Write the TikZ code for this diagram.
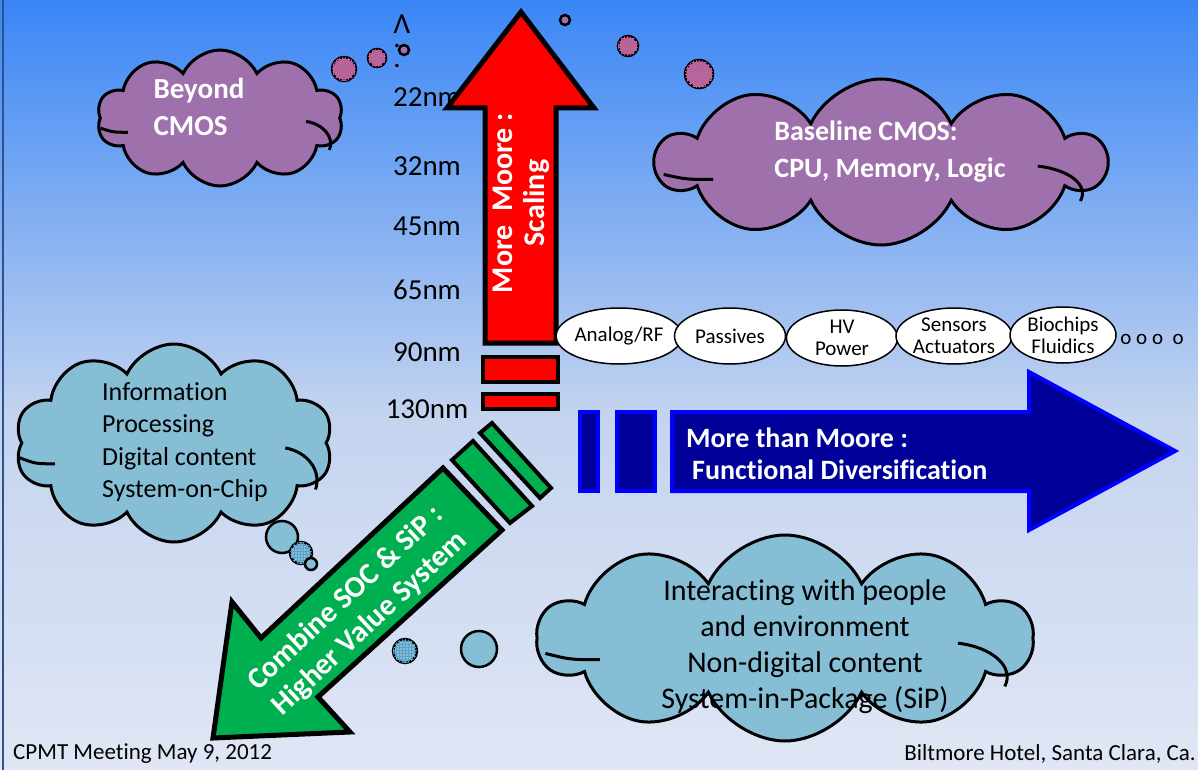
\documentclass[tikz,border=0pt]{standalone}
\usepackage{fontspec}
\setmainfont{Carlito}[Ligatures=NoCommon]
\usetikzlibrary{shapes.geometric,shapes.symbols,patterns}
\definecolor{bgtop}{RGB}{58,134,246}
\definecolor{bgmid}{RGB}{196,212,239}
\definecolor{bgbot}{RGB}{224,230,245}
\definecolor{redfill}{RGB}{255,0,0}
\definecolor{greenfill}{RGB}{0,176,80}
\definecolor{navyfill}{RGB}{0,0,153}
\definecolor{blueline}{RGB}{0,0,255}
\definecolor{plum}{RGB}{158,112,172}
\definecolor{plumgrid}{RGB}{205,90,140}
\definecolor{skycloud}{RGB}{134,190,214}
\definecolor{skygrid}{RGB}{90,160,200}
\definecolor{frameline}{RGB}{47,82,143}
\pgfdeclareverticalshading{slidebg}{100bp}{color(0bp)=(bgbot); color(25bp)=(bgbot); color(48bp)=(bgmid); color(75bp)=(bgtop); color(100bp)=(bgtop)}
% creases inside a cloud, centre #1, half width #2, half height #3
\newcommand\cloudcreases[3]{%
  \begin{scope}[shift={(#1)}, xscale=#2, yscale=#3, line width=3pt]
    \draw (-0.97,0.15) .. controls (-0.87,0.21) .. (-0.75,0.21);
    \draw (0.70,0.05) .. controls (0.84,0.09) and (0.93,0.28) .. (0.89,0.47);
  \end{scope}}
\tikzset{
  puff/.style={cloud, cloud puffs=10, cloud puff arc=130, cloud ignores aspect,
    draw=black, line width=3pt, inner sep=0pt},
  plumcloud/.style={puff, fill=plum},
  skycloud/.style={puff, fill=skycloud},
  plumbubble/.style={draw=black, line width=2.5pt, fill=plum},
  plumdot/.style={plumbubble, postaction={pattern=grid, pattern color=plumgrid}},
  skybubble/.style={draw=black, line width=2.5pt, fill=skycloud},
  skydot/.style={skybubble, postaction={pattern=grid, pattern color=skygrid}},
  nmlabel/.style={inner sep=0pt, font=\fontsize{29}{35}\selectfont},
  whitebold/.style={inner sep=0pt, text=white, font=\bfseries\fontsize{29}{37}\selectfont},
  arrowtext/.style={inner sep=0pt, text=white, align=center, font=\bfseries\fontsize{30}{33}\selectfont},
  cloudtext/.style={inner sep=0pt, font=\fontsize{26}{32.5}\selectfont},
  techblob/.style={ellipse, draw=black, line width=1.5pt, fill=white, inner sep=0pt,
    minimum width=111, minimum height=56, align=center,
    font=\fontsize{21}{22}\selectfont},
  redarrow/.style={draw=black, line width=5pt, fill=redfill, line join=miter},
  redbar/.style={draw=black, line width=4pt, fill=redfill},
  greenarrow/.style={draw=black, line width=5pt, fill=greenfill, line join=miter},
  greenbar/.style={draw=black, line width=4pt, fill=greenfill},
  bluearrow/.style={draw=blueline, line width=4pt, fill=navyfill, line join=miter},
  foot/.style={inner sep=0pt, font=\fontsize{23}{28}\selectfont}
}
\begin{document}
\begin{tikzpicture}[x=1pt,y=-1pt]
\shade[shading=slidebg] (0,0) rectangle (1198,770);
\useasboundingbox (0,0) rectangle (1198,770);
\draw[frameline, line width=2pt] (3,0) -- (3,770);

% clouds
\node[plumcloud, minimum width=246, minimum height=136] (beyond) at (220,118) {};
\cloudcreases{220,118}{123}{68}
\node[whitebold, align=left] (beyondtxt) at (199,107) {Beyond\\CMOS};
\node[plumcloud, minimum width=448, minimum height=166] (baseline) at (881,162) {};
\cloudcreases{881,162}{224}{83}
\node[whitebold, align=left, font=\bfseries\fontsize{28}{37}\selectfont] (baselinetxt) at (890,152) {Baseline CMOS:\\CPU, Memory, Logic};
\node[skycloud, minimum width=318, minimum height=198] (info) at (174,443) {};
\cloudcreases{174,443}{159}{99}
\node[cloudtext, align=left] (infotxt) at (185,442) {Information\\Processing\\Digital content\\System-on-Chip};
\node[skycloud, minimum width=494, minimum height=206] (people) at (785,638) {};
\cloudcreases{785,638}{247}{103}
\node[cloudtext, align=center, font=\fontsize{30}{36}\selectfont] (peopletxt) at (805,647) {Interacting with people\\and environment\\Non-digital content\\System-in-Package (SiP)};

% thought bubbles
\draw[plumdot] (344,69) circle[radius=12];
\draw[plumdot] (377,58) circle[radius=9];
\draw[plumbubble] (404,50) circle[radius=5];
\draw[plumbubble] (565,20) circle[radius=5];
\draw[plumdot] (628,46) circle[radius=10];
\draw[plumdot] (699,74) circle[radius=14];
\draw[skybubble] (282,537) circle[radius=16];
\draw[skydot] (301,553) circle[radius=11];
\draw[skybubble] (311,564) circle[radius=6];
\draw[skydot] (405,651) circle[radius=12];
\draw[skybubble] (479,649) circle[radius=18];

% node sizes
\node[nmlabel] (upmark) at (402,24) {Λ};
\node[nmlabel] (dotone) at (397,46) {.};
\node[nmlabel] (dottwo) at (397,66) {.};
\foreach \lbl/\yy in {22nm/97, 32nm/166, 45nm/226, 65nm/290, 90nm/352, 130nm/409}
  \node[nmlabel] (nm\lbl) at (427,\yy) {\lbl};

% more moore
\draw[redarrow] (485,343) -- (485,108) -- (447,108) -- (521,12) -- (594,108) -- (556,108) -- (556,343) -- cycle;
\draw[redbar] (483,357) rectangle (558,382);
\draw[redbar] (483,394) rectangle (558,409);
\node[arrowtext, rotate=90, font=\bfseries\fontsize{30}{32}\selectfont] (mooretxt) at (521,203) {More~~Moore :\\Scaling};

% more than moore
\draw[bluearrow] (580,412) rectangle (598,491);
\draw[bluearrow] (617,412) rectangle (655,491);
\draw[bluearrow] (672,412) -- (1029,412) -- (1029,372) -- (1175,451) -- (1029,530) -- (1029,491) -- (672,491) -- cycle;
\node[whitebold, anchor=west, align=left, font=\bfseries\fontsize{28}{32}\selectfont] (diversetxt) at (686,454) {More than Moore :\\\hspace*{6pt}Functional Diversification};

% combine
\draw[greenarrow] (502,530) -- (443,468) -- (261,638) -- (232,602) -- (213,738) -- (350,732) -- (318,697) -- cycle;
\draw[greenbar] (452,460) -- (473,441) -- (532,506) -- (510,523) -- cycle;
\draw[greenbar] (480,433) -- (492,423) -- (551,488) -- (540,498) -- cycle;
\node[arrowtext, rotate=43, font=\bfseries\fontsize{30}{35}\selectfont] (combinetxt) at (358,611) {Combine SOC \& SiP :\\Higher Value System};

% diversification items
\node[techblob] (analog) at (619,336) {Analog/RF};
\node[techblob] (passives) at (730,336) {Passives};
\node[techblob] (hvpower) at (842,338) {HV\\Power};
\node[techblob] (sensors) at (954,336) {Sensors\\Actuators};
\node[techblob, minimum width=106] (biochips) at (1063,335) {Biochips\\Fluidics};
\node[nmlabel, font=\fontsize{21}{22}\selectfont] (more) at (1152,339) {o o o~~o};

% footer
\node[foot, anchor=west] (meeting) at (13,754) {CPMT Meeting May 9, 2012};
\node[foot, anchor=east] (hotel) at (1196,754) {Biltmore Hotel, Santa Clara, Ca.};
\end{tikzpicture}
\end{document}
